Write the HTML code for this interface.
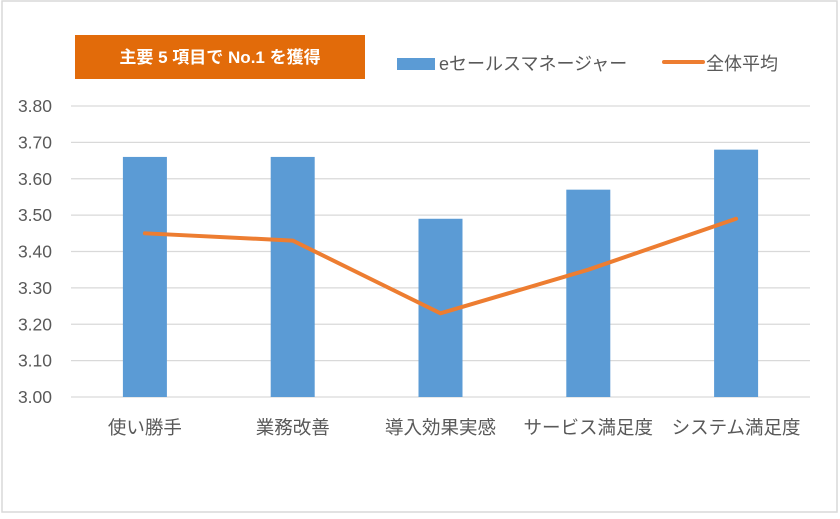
<!DOCTYPE html>
<html><head><meta charset="utf-8"><style>
body{margin:0;background:#fff;}
svg text{font-family:"Liberation Sans","Noto Sans CJK JP",sans-serif;}
</style></head><body>
<svg id="chart" width="840" height="514" xmlns="http://www.w3.org/2000/svg">
<rect x="2" y="1" width="835" height="511" fill="#fff" stroke="#d9d9d9" stroke-width="1.5"/>
<rect x="75" y="35" width="290" height="44" fill="#E26B0A"/>
<text x="220" y="63" text-anchor="middle" font-size="17" font-weight="bold" fill="#fff">主要 5 項目で No.1 を獲得</text>
<rect x="397" y="58" width="38" height="12" fill="#5B9BD5"/>
<text x="439" y="70" font-size="18" fill="#595959">eセールスマネージャー</text>
<line x1="664" y1="62" x2="703" y2="62" stroke="#ED7D31" stroke-width="4" stroke-linecap="round"/>
<text x="706" y="70" font-size="18" fill="#595959">全体平均</text>
<g id="grid"></g><g id="bars"></g><g id="line"></g><g id="labels"></g>
</svg>
<script>
const categories=["使い勝手","業務改善","導入効果実感","サービス満足度","システム満足度"];
const barValues=[3.66,3.66,3.49,3.57,3.68];
const lineValues=[3.45,3.43,3.23,3.35,3.49];
const yTicks=[3.00,3.10,3.20,3.30,3.40,3.50,3.60,3.70,3.80];
const NS="http://www.w3.org/2000/svg";
const x0=71,x1=810,yMin=3.0,yMax=3.8,py0=397,py1=106;
const bw=(x1-x0)/categories.length;
function y(v){return py0-(v-yMin)/(yMax-yMin)*(py0-py1);}
function xc(i){return x0+bw*(i+0.5);}
function mk(t,a,p){const e=document.createElementNS(NS,t);for(const k in a)e.setAttribute(k,a[k]);document.getElementById(p).appendChild(e);return e;}
yTicks.forEach(v=>{
 const l=mk('line',{x1:x0,x2:x1,y1:y(v),y2:y(v),stroke:'#d9d9d9','stroke-width':1.2},'grid');
 
 
 const t=mk('text',{x:52,y:y(v)+6,'text-anchor':'end','font-size':17.5,fill:'#595959'},'grid');
 t.textContent=v.toFixed(2);
 
 
});
barValues.forEach((v,i)=>{
 const r=mk('rect',{x:xc(i)-22,y:y(v),width:44,height:y(yMin)-y(v),fill:'#5B9BD5'},'bars');
 
 
});
const p=mk('polyline',{points:lineValues.map((v,i)=>xc(i)+','+y(v)).join(' '),fill:'none',stroke:'#ED7D31','stroke-width':4,'stroke-linejoin':'round','stroke-linecap':'round'},'line');


categories.forEach((c,i)=>{
 const t=mk('text',{x:xc(i),y:434,'text-anchor':'middle','font-size':18.5,fill:'#595959'},'labels');
 t.textContent=c;
 
 
});
</script>
</body></html>
